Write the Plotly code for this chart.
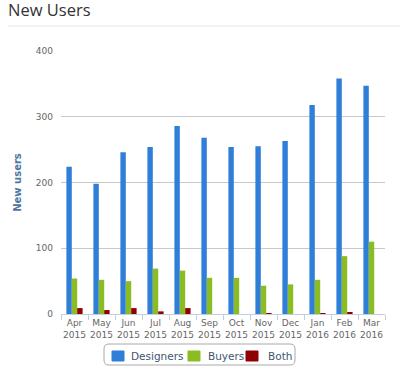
import plotly.graph_objects as go

months = ["Apr<br>2015", "May<br>2015", "Jun<br>2015", "Jul<br>2015", "Aug<br>2015", "Sep<br>2015",
          "Oct<br>2015", "Nov<br>2015", "Dec<br>2015", "Jan<br>2016", "Feb<br>2016", "Mar<br>2016"]
designers = [224, 198, 246, 254, 286, 268, 254, 255, 263, 318, 358, 347]
buyers = [54, 52, 50, 69, 66, 55, 55, 43, 45, 52, 88, 110]
both = [9, 6, 9, 4, 9, 0, 0, 1.5, 0, 1, 3, 0]

series = [("Designers", designers, "#2F7ED8"),
          ("Buyers", buyers, "#8BBC21"),
          ("Both", both, "#910000")]

W, H = 400, 373
L, R, T, B = 61, 15, 51, 59
PW, PH = W - L - R, H - T - B


def px(x):
    return (x - L) / PW


def py(y):
    return (H - B - y) / PH


fig = go.Figure()
for name, vals, col in series:
    fig.add_trace(go.Bar(x=months, y=vals, name=name, marker_color=col,
                         marker_line_width=0, showlegend=False))

fig.update_layout(
    width=W, height=H,
    margin=dict(l=L, r=R, t=T, b=B),
    paper_bgcolor="white", plot_bgcolor="white",
    barmode="group", bargap=0.4, bargroupgap=0,
    font=dict(family="DejaVu Sans", size=9, color="#666666"),
    title=dict(text="New Users", x=8 / W, xanchor="left", xref="container",
               y=1 - 10.5 / H, yanchor="middle", yref="container", pad=dict(t=0, l=0),
               font=dict(family="Open Sans", size=16.5, color="#333333")),
    xaxis=dict(showline=True, linecolor="#C0D0E0", linewidth=1,
               ticks="outside", tickcolor="#C0D0E0", ticklen=5, tickson="boundaries",
               tickangle=0, automargin=False,
               tickfont=dict(size=9, color="#666666"), showgrid=False),
    yaxis=dict(range=[0, 400], dtick=100, showgrid=True, gridcolor="#C8C8C8",
               zeroline=False, showline=False, ticks="", ticklabelstandoff=7,
               automargin=False,
               tickfont=dict(size=9, color="#666666"),
               title=dict(text="<b>New users</b>", standoff=12,
                          font=dict(size=10, color="#4D759E"))),
    showlegend=False,
)

# header separator
fig.add_shape(type="line", xref="paper", yref="paper", x0=px(8), x1=px(400),
              y0=py(26), y1=py(26), line=dict(color="#E6E6E6", width=1))

# legend box (rounded)
x0, x1, y0, y1, r = 104, 295, 344, 365, 5
path = (f"M {px(x0 + r)} {py(y0)} L {px(x1 - r)} {py(y0)} "
        f"Q {px(x1)} {py(y0)} {px(x1)} {py(y0 + r)} L {px(x1)} {py(y1 - r)} "
        f"Q {px(x1)} {py(y1)} {px(x1 - r)} {py(y1)} L {px(x0 + r)} {py(y1)} "
        f"Q {px(x0)} {py(y1)} {px(x0)} {py(y1 - r)} L {px(x0)} {py(y0 + r)} "
        f"Q {px(x0)} {py(y0)} {px(x0 + r)} {py(y0)} Z")
fig.add_shape(type="path", xref="paper", yref="paper", path=path,
              line=dict(color="#AAAAAA", width=1), fillcolor="rgba(0,0,0,0)")

legend_pos = [(112, 129), (188, 206), (246, 266)]
for (name, _, col), (sx, tx) in zip(series, legend_pos):
    fig.add_shape(type="rect", xref="paper", yref="paper",
                  x0=px(sx), x1=px(sx + 12), y0=py(351), y1=py(361),
                  fillcolor=col, line=dict(color=col, width=1))
    fig.add_annotation(text=name, xref="paper", yref="paper", x=px(tx), y=py(356),
                       xanchor="left", yanchor="middle", showarrow=False,
                       font=dict(family="DejaVu Sans", size=10.5, color="#3E576F"))

fig.write_html("out.html", config={"displayModeBar": False},
               post_script="document.body.style.margin='0';document.body.style.overflow='hidden';")
